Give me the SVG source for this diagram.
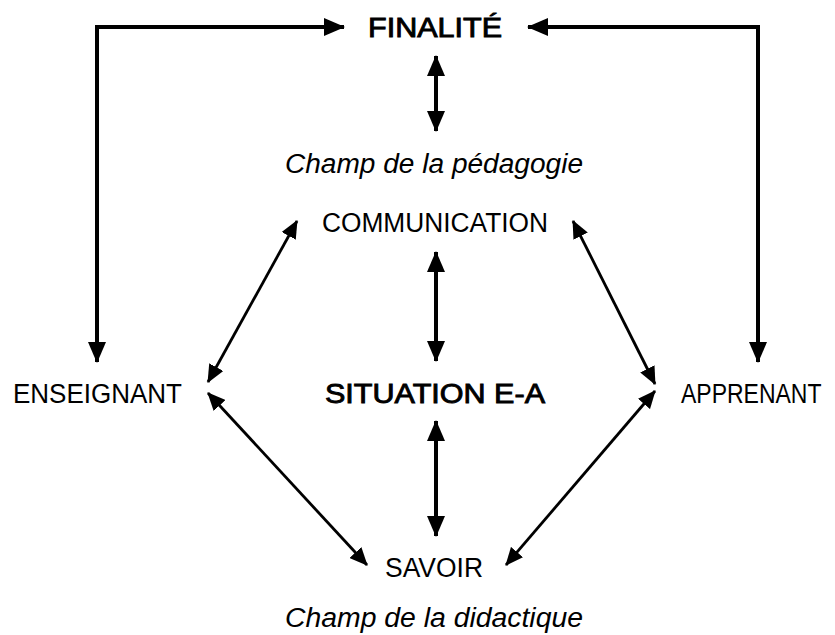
<svg xmlns="http://www.w3.org/2000/svg" width="835" height="635" viewBox="0 0 835 635">
<style>
  text { font-family: "Liberation Sans", "DejaVu Sans", sans-serif; font-size: 27px; fill: #000; }
  .b { stroke: #000; stroke-width: 0.9; }
  .i { font-style: italic; }
  .thick { fill: none; stroke: #000; stroke-width: 4; }
  .thin { fill: none; stroke: #000; stroke-width: 2.8; }
</style>
<defs>
  <marker id="ah" markerUnits="userSpaceOnUse" markerWidth="22" markerHeight="18" refX="20" refY="9" orient="auto-start-reverse">
    <path d="M0,0 L21,9 L0,18 z" fill="#000"/>
  </marker>
  <marker id="ahs" markerUnits="userSpaceOnUse" markerWidth="19" markerHeight="16" refX="17" refY="8" orient="auto-start-reverse">
    <path d="M0,0 L18,8 L0,16 z" fill="#000"/>
  </marker>
</defs>
<rect width="835" height="635" fill="#fff"/>
<g id="connectors">
  <path class="thick" d="M97,362 V27 H344" marker-start="url(#ah)" marker-end="url(#ah)"/>
  <path class="thick" d="M758,362 V27 H528" marker-start="url(#ah)" marker-end="url(#ah)"/>
  <path class="thick" d="M436,56 V131" marker-start="url(#ah)" marker-end="url(#ah)"/>
  <path class="thick" d="M436,252 V361" marker-start="url(#ah)" marker-end="url(#ah)"/>
  <path class="thick" d="M436,421 V536" marker-start="url(#ah)" marker-end="url(#ah)"/>
  <path class="thin" d="M208,382 L297,221" marker-start="url(#ahs)" marker-end="url(#ahs)"/>
  <path class="thin" d="M208,393 L367,565" marker-start="url(#ahs)" marker-end="url(#ahs)"/>
  <path class="thin" d="M573,221 L655,384" marker-start="url(#ahs)" marker-end="url(#ahs)"/>
  <path class="thin" d="M655,391 L506,565" marker-start="url(#ahs)" marker-end="url(#ahs)"/>
</g>
<g id="finalite"><text class="b" x="368" y="37" textLength="134" lengthAdjust="spacingAndGlyphs">FINALITÉ</text></g>
<g id="champ-pedagogie"><text class="i" x="285" y="173" textLength="298" lengthAdjust="spacingAndGlyphs">Champ de la pédagogie</text></g>
<g id="communication"><text x="322" y="232" textLength="226" lengthAdjust="spacingAndGlyphs">COMMUNICATION</text></g>
<g id="enseignant"><text x="13" y="403" textLength="169" lengthAdjust="spacingAndGlyphs">ENSEIGNANT</text></g>
<g id="situation"><text class="b" x="325" y="403" textLength="220" lengthAdjust="spacingAndGlyphs">SITUATION E-A</text></g>
<g id="apprenant"><text transform="translate(681,403) scale(1,1.17)" x="0" y="0" style="font-size:23px">APPRENANT</text></g>
<g id="savoir"><text x="385" y="577" textLength="98" lengthAdjust="spacingAndGlyphs">SAVOIR</text></g>
<g id="champ-didactique"><text class="i" x="285" y="627" textLength="298" lengthAdjust="spacingAndGlyphs">Champ de la didactique</text></g>
</svg>
